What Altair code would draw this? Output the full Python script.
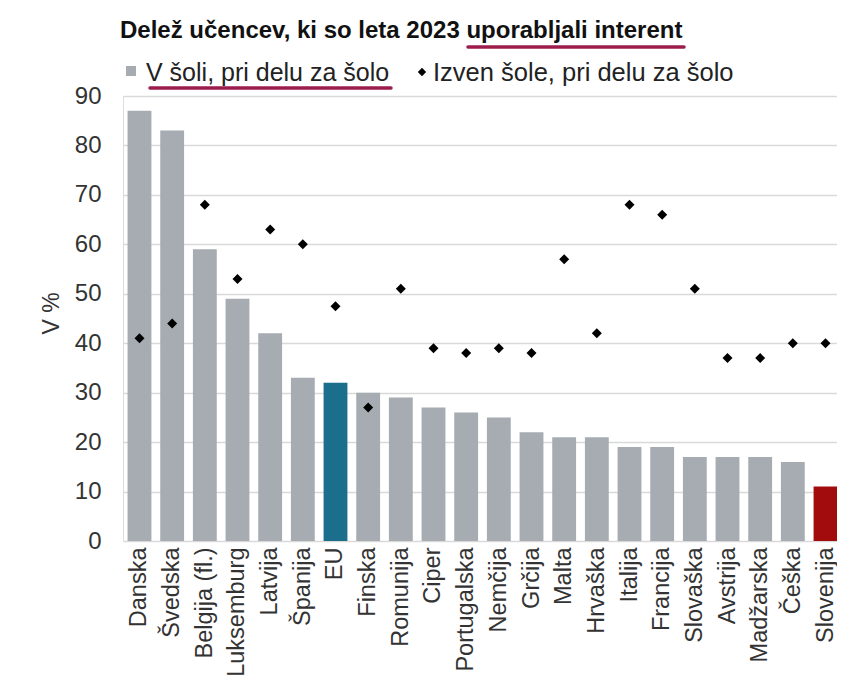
import altair as alt
import pandas as pd

countries = ["Danska", "Švedska", "Belgija (fl.)", "Luksemburg", "Latvija", "Španija", "EU",
             "Finska", "Romunija", "Ciper", "Portugalska", "Nemčija", "Grčija", "Malta",
             "Hrvaška", "Italija", "Francija", "Slovaška", "Avstrija", "Madžarska", "Češka", "Slovenija"]
v_soli = [87, 83, 59, 49, 42, 33, 32, 30, 29, 27, 26, 25, 22, 21, 21, 19, 19, 17, 17, 17, 16, 11]
izven_sole = [41, 44, 68, 53, 63, 60, 47.5, 27, 51, 39, 38, 39, 38, 57, 42, 68, 66, 51, 37, 37, 40, 40]
groups = ["drugo"] * 6 + ["EU"] + ["drugo"] * 14 + ["Slovenija"]
y_ticks = [0, 10, 20, 30, 40, 50, 60, 70, 80, 90]

title_text = "Delež učencev, ki so leta 2023 uporabljali interent"
legend_bar = "V šoli, pri delu za šolo"
legend_point = "Izven šole, pri delu za šolo"

df = pd.DataFrame({"drzava": countries, "v_soli": v_soli, "izven": izven_sole, "skupina": groups})
one = pd.DataFrame({"k": [0]})

FONT = "Liberation Sans"
NARROW = "Liberation Sans Narrow, Liberation Sans"
GRAY = "#a6acb2"
UL = "#9c1c4c"

x_enc = alt.X("drzava:N", sort=countries, title=None,
              scale=alt.Scale(paddingInner=0.27, paddingOuter=0.14, range=[0, 719]),
              axis=alt.Axis(labelAngle=-90, labelFontSize=23.5, labelColor="#333333", labelFont=FONT,
                            ticks=False, domain=False, labelPadding=6, labelBaseline="middle",
                            labelLimit=300))

bars = alt.Chart(df).mark_bar().encode(
    x=x_enc,
    y=alt.Y("v_soli:Q", title="V %",
            scale=alt.Scale(domain=[0, 90], nice=False),
            axis=alt.Axis(values=y_ticks, labelFontSize=24, labelColor="#333333", labelFont=FONT,
                          ticks=False, domain=False, gridColor="#d9d9d9", gridWidth=1.5,
                          labelPadding=22, titleFontSize=23, titleFont=FONT, titleFontWeight="normal",
                          titleColor="#333333", titleX=-72, titleY=217, titleAngle=-90,
                          titleAlign="center", titleBaseline="middle")),
    color=alt.Color("skupina:N", legend=None,
                    scale=alt.Scale(domain=["drugo", "EU", "Slovenija"],
                                    range=[GRAY, "#1b6f8c", "#a30c0c"])),
)

points = alt.Chart(df).mark_point(shape="diamond", filled=True, color="black", size=100, opacity=1).encode(
    x=alt.X("drzava:N", sort=countries),
    y=alt.Y("izven:Q"),
)

title = alt.Chart(one).mark_text(text=title_text, font=NARROW, fontSize=24, fontWeight="bold",
                                 color="#111111", align="left", baseline="alphabetic").encode(
    x=alt.value(-3), y=alt.value(-58))

leg_sq = alt.Chart(one).mark_square(size=100, color=GRAY, opacity=1, filled=True).encode(
    x=alt.value(8), y=alt.value(-25))
leg_t1 = alt.Chart(one).mark_text(text=legend_bar, font=NARROW, fontSize=25, color="#222222",
                                  align="left", baseline="alphabetic").encode(
    x=alt.value(23), y=alt.value(-15))
leg_dm = alt.Chart(one).mark_point(shape="diamond", filled=True, color="black", size=70, opacity=1).encode(
    x=alt.value(299), y=alt.value(-24))
leg_t2 = alt.Chart(one).mark_text(text=legend_point, font=NARROW, fontSize=25.5, color="#222222",
                                  align="left", baseline="alphabetic").encode(
    x=alt.value(310), y=alt.value(-15))

ul1 = alt.Chart(one).mark_rule(color=UL, strokeWidth=3.5, strokeCap="round").encode(
    x=alt.value(345), x2=alt.value(561), y=alt.value(-49))
ul2 = alt.Chart(one).mark_rule(color=UL, strokeWidth=3.5, strokeCap="round").encode(
    x=alt.value(27), x2=alt.value(268), y=alt.value(-8))

chart = alt.layer(bars, points, title, leg_sq, leg_t1, leg_dm, leg_t2, ul1, ul2).properties(
    width=714, height=445,
    autosize=alt.AutoSizeParams(type="none"),
    padding={"left": 115, "top": 88, "right": 0, "bottom": 135},
).configure_view(stroke="#d0d0d0", strokeWidth=1.5).configure(background="white")

chart.save("out.html", embed_options={"renderer": "svg", "actions": False})
